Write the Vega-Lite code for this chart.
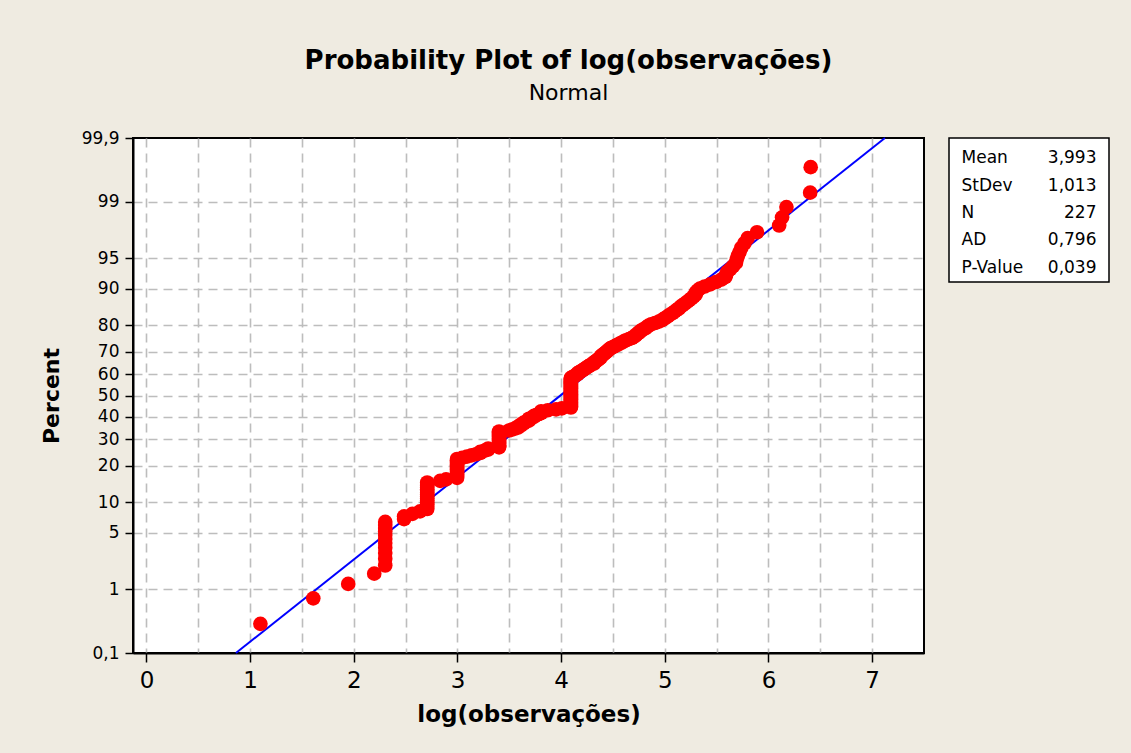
{
  "$schema": "https://vega.github.io/schema/vega-lite/v6.json",
  "autosize": {"type": "none"},
  "padding": {"left": 133, "top": 138, "right": 998, "bottom": 615},
  "background": "#EFEBE1",
  "title": {
    "text": "Probability Plot of log(observações)",
    "subtitle": "Normal",
    "anchor": "middle",
    "font": "DejaVu Sans",
    "fontSize": 26,
    "fontWeight": "bold",
    "color": "black",
    "subtitleFont": "DejaVu Sans",
    "subtitleFontSize": 22,
    "subtitleColor": "black",
    "subtitlePadding": 9,
    "offset": 24,
    "dx": -6
  },
  "config": {
    "font": "DejaVu Sans",
    "axis": {
      "labelFont": "DejaVu Sans",
      "titleFont": "DejaVu Sans",
      "labelColor": "black",
      "titleColor": "black",
      "domainColor": "black",
      "tickColor": "black"
    }
  },
  "datasets": {
    "points": [
      {"x":1.099,"z":-2.740},{"x":1.609,"z":-2.434},{"x":1.946,"z":-2.261},{"x":2.197,"z":-2.138},
      {"x":2.303,"z":-2.040},{"x":2.303,"z":-1.959},{"x":2.303,"z":-1.889},{"x":2.303,"z":-1.827},
      {"x":2.303,"z":-1.771},{"x":2.303,"z":-1.721},{"x":2.303,"z":-1.674},{"x":2.303,"z":-1.631},
      {"x":2.303,"z":-1.591},{"x":2.303,"z":-1.553},{"x":2.303,"z":-1.517},{"x":2.485,"z":-1.483},
      {"x":2.485,"z":-1.450},{"x":2.565,"z":-1.420},{"x":2.639,"z":-1.390},{"x":2.708,"z":-1.362},
      {"x":2.708,"z":-1.334},{"x":2.708,"z":-1.308},{"x":2.708,"z":-1.283},{"x":2.708,"z":-1.258},
      {"x":2.708,"z":-1.234},{"x":2.708,"z":-1.211},{"x":2.708,"z":-1.188},{"x":2.708,"z":-1.166},
      {"x":2.708,"z":-1.144},{"x":2.708,"z":-1.124},{"x":2.708,"z":-1.103},{"x":2.708,"z":-1.083},
      {"x":2.708,"z":-1.063},{"x":2.708,"z":-1.044},{"x":2.833,"z":-1.025},{"x":2.890,"z":-1.007},
      {"x":2.996,"z":-0.989},{"x":2.996,"z":-0.971},{"x":2.996,"z":-0.953},{"x":2.996,"z":-0.936},
      {"x":2.996,"z":-0.919},{"x":2.996,"z":-0.903},{"x":2.996,"z":-0.886},{"x":2.996,"z":-0.870},
      {"x":2.996,"z":-0.854},{"x":2.996,"z":-0.838},{"x":2.996,"z":-0.823},{"x":2.996,"z":-0.807},
      {"x":2.996,"z":-0.792},{"x":2.996,"z":-0.777},{"x":2.996,"z":-0.762},{"x":3.045,"z":-0.748},
      {"x":3.091,"z":-0.733},{"x":3.135,"z":-0.719},{"x":3.178,"z":-0.705},{"x":3.219,"z":-0.690},
      {"x":3.219,"z":-0.677},{"x":3.258,"z":-0.663},{"x":3.296,"z":-0.649},{"x":3.296,"z":-0.636},
      {"x":3.401,"z":-0.622},{"x":3.401,"z":-0.609},{"x":3.401,"z":-0.596},{"x":3.401,"z":-0.582},
      {"x":3.401,"z":-0.569},{"x":3.401,"z":-0.557},{"x":3.401,"z":-0.544},{"x":3.401,"z":-0.531},
      {"x":3.401,"z":-0.518},{"x":3.401,"z":-0.506},{"x":3.401,"z":-0.493},{"x":3.401,"z":-0.481},
      {"x":3.401,"z":-0.469},{"x":3.401,"z":-0.456},{"x":3.401,"z":-0.444},{"x":3.401,"z":-0.432},
      {"x":3.497,"z":-0.420},{"x":3.526,"z":-0.408},{"x":3.555,"z":-0.396},{"x":3.584,"z":-0.384},
      {"x":3.584,"z":-0.372},{"x":3.611,"z":-0.360},{"x":3.611,"z":-0.349},{"x":3.638,"z":-0.337},
      {"x":3.638,"z":-0.325},{"x":3.664,"z":-0.314},{"x":3.689,"z":-0.302},{"x":3.689,"z":-0.291},
      {"x":3.689,"z":-0.279},{"x":3.714,"z":-0.268},{"x":3.738,"z":-0.256},{"x":3.738,"z":-0.245},
      {"x":3.761,"z":-0.234},{"x":3.784,"z":-0.222},{"x":3.807,"z":-0.211},{"x":3.807,"z":-0.200},
      {"x":3.807,"z":-0.189},{"x":3.871,"z":-0.177},{"x":3.951,"z":-0.166},{"x":4.007,"z":-0.155},
      {"x":4.094,"z":-0.144},{"x":4.094,"z":-0.133},{"x":4.094,"z":-0.122},{"x":4.094,"z":-0.111},
      {"x":4.094,"z":-0.099},{"x":4.094,"z":-0.088},{"x":4.094,"z":-0.077},{"x":4.094,"z":-0.066},
      {"x":4.094,"z":-0.055},{"x":4.094,"z":-0.044},{"x":4.094,"z":-0.033},{"x":4.094,"z":-0.022},
      {"x":4.094,"z":-0.011},{"x":4.094,"z":0.000},{"x":4.094,"z":0.011},{"x":4.094,"z":0.022},
      {"x":4.094,"z":0.033},{"x":4.094,"z":0.044},{"x":4.094,"z":0.055},{"x":4.094,"z":0.066},
      {"x":4.094,"z":0.077},{"x":4.094,"z":0.088},{"x":4.094,"z":0.099},{"x":4.094,"z":0.111},
      {"x":4.094,"z":0.122},{"x":4.094,"z":0.133},{"x":4.094,"z":0.144},{"x":4.094,"z":0.155},
      {"x":4.094,"z":0.166},{"x":4.094,"z":0.177},{"x":4.094,"z":0.189},{"x":4.094,"z":0.200},
      {"x":4.094,"z":0.211},{"x":4.111,"z":0.222},{"x":4.127,"z":0.234},{"x":4.143,"z":0.245},
      {"x":4.159,"z":0.256},{"x":4.159,"z":0.268},{"x":4.174,"z":0.279},{"x":4.190,"z":0.291},
      {"x":4.205,"z":0.302},{"x":4.220,"z":0.314},{"x":4.234,"z":0.325},{"x":4.248,"z":0.337},
      {"x":4.263,"z":0.349},{"x":4.277,"z":0.360},{"x":4.290,"z":0.372},{"x":4.317,"z":0.384},
      {"x":4.317,"z":0.396},{"x":4.331,"z":0.408},{"x":4.344,"z":0.420},{"x":4.357,"z":0.432},
      {"x":4.369,"z":0.444},{"x":4.382,"z":0.456},{"x":4.382,"z":0.469},{"x":4.394,"z":0.481},
      {"x":4.407,"z":0.493},{"x":4.419,"z":0.506},{"x":4.431,"z":0.518},{"x":4.443,"z":0.531},
      {"x":4.454,"z":0.544},{"x":4.466,"z":0.557},{"x":4.477,"z":0.569},{"x":4.500,"z":0.582},
      {"x":4.522,"z":0.596},{"x":4.543,"z":0.609},{"x":4.564,"z":0.622},{"x":4.585,"z":0.636},
      {"x":4.605,"z":0.649},{"x":4.625,"z":0.663},{"x":4.654,"z":0.677},{"x":4.682,"z":0.690},
      {"x":4.700,"z":0.705},{"x":4.718,"z":0.719},{"x":4.727,"z":0.733},{"x":4.745,"z":0.748},
      {"x":4.754,"z":0.762},{"x":4.771,"z":0.777},{"x":4.787,"z":0.792},{"x":4.812,"z":0.807},
      {"x":4.828,"z":0.823},{"x":4.844,"z":0.838},{"x":4.868,"z":0.854},{"x":4.905,"z":0.870},
      {"x":4.942,"z":0.886},{"x":4.970,"z":0.903},{"x":4.990,"z":0.919},{"x":5.011,"z":0.936},
      {"x":5.030,"z":0.953},{"x":5.050,"z":0.971},{"x":5.075,"z":0.989},{"x":5.094,"z":1.007},
      {"x":5.112,"z":1.025},{"x":5.136,"z":1.044},{"x":5.150,"z":1.063},{"x":5.170,"z":1.083},
      {"x":5.193,"z":1.103},{"x":5.215,"z":1.124},{"x":5.236,"z":1.144},{"x":5.257,"z":1.166},
      {"x":5.278,"z":1.188},{"x":5.298,"z":1.211},{"x":5.298,"z":1.234},{"x":5.315,"z":1.258},
      {"x":5.338,"z":1.283},{"x":5.384,"z":1.308},{"x":5.438,"z":1.334},{"x":5.493,"z":1.362},
      {"x":5.545,"z":1.390},{"x":5.583,"z":1.420},{"x":5.591,"z":1.450},{"x":5.602,"z":1.483},
      {"x":5.631,"z":1.517},{"x":5.659,"z":1.553},{"x":5.686,"z":1.591},{"x":5.693,"z":1.631},
      {"x":5.704,"z":1.674},{"x":5.720,"z":1.721},{"x":5.737,"z":1.771},{"x":5.768,"z":1.827},
      {"x":5.799,"z":1.889},{"x":5.889,"z":1.959},{"x":6.103,"z":2.040},{"x":6.131,"z":2.138},
      {"x":6.173,"z":2.261},{"x":6.402,"z":2.434},{"x":6.407,"z":2.740}
    ],
    "fit": [
      {"x": 0.863, "z": -3.0902},
      {"x": 7.123, "z": 3.0902}
    ],
    "stats": [
      {"stat": "Mean", "value": "3,993"},
      {"stat": "StDev", "value": "1,013"},
      {"stat": "N", "value": "227"},
      {"stat": "AD", "value": "0,796"},
      {"stat": "P-Value", "value": "0,039"}
    ]
  },
  "bounds": "flush",
  "spacing": 25,
  "hconcat": [
    {
      "width": 791,
      "height": 515,
      "view": {"fill": "white", "stroke": "black", "strokeWidth": 2},
      "encoding": {
        "x": {
          "field": "x",
          "type": "quantitative",
          "scale": {"domain": [-0.13, 7.5], "nice": false, "zero": false},
          "axis": {
            "title": "log(observações)",
            "values": [0, 0.5, 1, 1.5, 2, 2.5, 3, 3.5, 4, 4.5, 5, 5.5, 6, 6.5, 7],
            "labelExpr": "datum.value % 1 === 0 ? format(datum.value, 'd') : ''",
            "labelOverlap": false,
            "labelFlush": false,
            "labelFontSize": 23,
            "labelPadding": 7,
            "grid": true,
            "gridDash": [9, 6],
            "gridColor": "#BDBDBD",
            "gridWidth": 1.6,
            "tickSize": 9,
            "tickWidth": 1.5,
            "tickOpacity": {"condition": {"test": "datum.value % 1 !== 0", "value": 0}, "value": 1},
            "domainWidth": 2,
            "titleFontSize": 23,
            "titleFontWeight": "bold",
            "titlePadding": 11
          }
        },
        "y": {
          "field": "z",
          "type": "quantitative",
          "scale": {"domain": [-3.0902, 3.0902], "nice": false, "zero": false},
          "axis": {
            "title": "Percent",
            "values": [-3.0902, -2.3263, -1.6449, -1.2816, -0.8416, -0.5244, -0.2533, 0, 0.2533, 0.5244, 0.8416, 1.2816, 1.6449, 2.3263, 3.0902],
            "labelExpr": "datum.value < -3 ? '0,1' : datum.value > 3 ? '99,9' : format(cumulativeNormal(datum.value) * 100, '.0f')",
            "labelOverlap": false,
            "labelFlush": false,
            "labelFontSize": 17,
            "labelPadding": 6,
            "grid": true,
            "gridDash": [9, 6],
            "gridColor": "#BDBDBD",
            "gridWidth": 1.6,
            "gridOpacity": {"condition": {"test": "abs(datum.value) > 3", "value": 0}, "value": 1},
            "tickSize": 8,
            "tickWidth": 1.5,
            "domainWidth": 2,
            "titleFontSize": 22,
            "titleFontWeight": "bold",
            "titlePadding": 18
          }
        }
      },
      "layer": [
        {
          "data": {"name": "fit"},
          "mark": {"type": "line", "color": "#0000FF", "strokeWidth": 2}
        },
        {
          "data": {"name": "points"},
          "mark": {"type": "circle", "color": "#FF0000", "opacity": 1, "size": 215}
        }
      ]
    },
    {
      "width": 160,
      "height": 144,
      "view": {"fill": "white", "stroke": "black", "strokeWidth": 1.5},
      "data": {"name": "stats"},
      "encoding": {
        "y": {
          "field": "stat",
          "type": "nominal",
          "scale": {"type": "point", "domain": ["Mean", "StDev", "N", "AD", "P-Value"], "padding": 0.64},
          "axis": null
        }
      },
      "layer": [
        {
          "mark": {"type": "text", "align": "left", "baseline": "middle", "fontSize": 17, "font": "DejaVu Sans", "color": "black", "dy": 3},
          "encoding": {
            "x": {"datum": "label", "type": "nominal", "scale": {"type": "point", "domain": ["label", "value"], "padding": 0.0926}, "axis": null},
            "text": {"field": "stat"}
          }
        },
        {
          "mark": {"type": "text", "align": "right", "baseline": "middle", "fontSize": 17, "font": "DejaVu Sans", "color": "black", "dy": 3},
          "encoding": {
            "x": {"datum": "value", "type": "nominal", "scale": {"type": "point", "domain": ["label", "value"], "padding": 0.0926}, "axis": null},
            "text": {"field": "value"}
          }
        }
      ]
    }
  ]
}
